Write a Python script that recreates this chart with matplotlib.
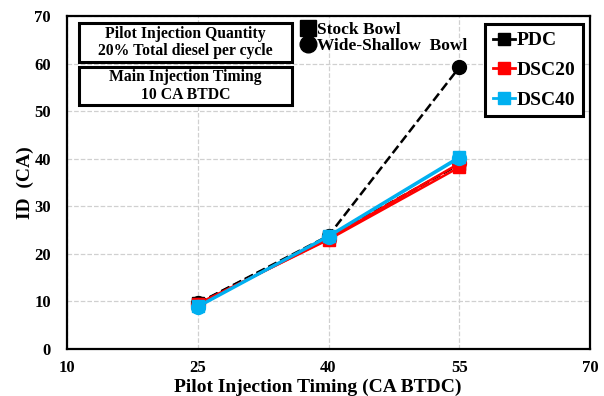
import matplotlib.pyplot as plt
from matplotlib.lines import Line2D
from matplotlib.patches import Rectangle

plt.rcParams['font.family'] = ['Liberation Serif', 'DejaVu Serif']
plt.rcParams['font.weight'] = 'bold'
plt.rcParams['axes.labelweight'] = 'bold'

# pilot injection timing (CA BTDC)
timing = [25, 40, 55]
# ignition delay, stock bowl
id_pdc_stock = [9.6, 23.5, 38.8]
id_dsc20_stock = [9.5, 23.0, 38.2]
id_dsc40_stock = [9.0, 23.8, 40.4]
# ignition delay, wide-shallow bowl
id_pdc_ws = [9.6, 23.8, 59.2]
id_dsc20_ws = [9.3, 23.2, 39.0]
id_dsc40_ws = [8.8, 23.6, 40.1]

fuels = ['PDC', 'DSC20', 'DSC40']
colors = ['black', '#ff0000', '#00b0f0']
styles = ['--', '-', '-']

fig = plt.figure(figsize=(6.04, 3.96), dpi=100)
ax = fig.add_axes([67 / 604, 47 / 396, 523 / 604, 333 / 396])

stock = [id_pdc_stock, id_dsc20_stock, id_dsc40_stock]
ws = [id_pdc_ws, id_dsc20_ws, id_dsc40_ws]
for s, w, c, ls in zip(stock, ws, colors, styles):
    ax.plot(timing, s, color=c, ls=ls, lw=1.8, marker='s', ms=9, zorder=3)
    ax.plot(timing, w, color=c, ls=ls, lw=1.8, marker='o', ms=10, zorder=3)

ax.set_xlim(10, 70)
ax.set_ylim(0, 70)
ax.set_xticks([10, 25, 40, 55, 70])
ax.set_yticks(range(0, 71, 10))
ax.tick_params(axis='both', labelsize=12, length=0)
ax.tick_params(axis='x', pad=8)
ax.tick_params(axis='y', pad=11.5)
ax.grid(True, color='#d0d0d0', ls='--', lw=0.9)
for sp in ax.spines.values():
    sp.set_linewidth(1.6)
    sp.set_color('black')

ax.set_xlabel('Pilot Injection Timing (CA BTDC)', fontsize=14, va='center')
ax.xaxis.set_label_coords(0.48, -0.114)
ax.set_ylabel('ID  (CA)', fontsize=14, va='center')
ax.yaxis.set_label_coords(-0.080, 0.5)

# info boxes
for y0, y1, txt in [(0.862, 0.979, 'Pilot Injection Quantity\n20% Total diesel per cycle'),
                    (0.733, 0.847, 'Main Injection Timing\n10 CA BTDC')]:
    ax.add_patch(Rectangle((0.023, y0), 0.407, y1 - y0, transform=ax.transAxes,
                           fill=True, facecolor='white', edgecolor='black', lw=2.2, zorder=5))
    ax.text(0.2265, (y0 + y1) / 2, txt, transform=ax.transAxes, ha='center', va='center',
            fontsize=11.3, linespacing=1.15, zorder=6)

# bowl marker key
bowl_handles = [Line2D([], [], color='black', ls='none', marker='s', ms=11),
                Line2D([], [], color='black', ls='none', marker='o', ms=12)]
leg1 = ax.legend(bowl_handles, ['Stock Bowl', 'Wide-Shallow  Bowl'], loc='upper left',
                 bbox_to_anchor=(0.4235, 1.02), frameon=False, fontsize=12.5,
                 handlelength=0.8, handletextpad=0.15, labelspacing=0.0, borderpad=0.2)
ax.add_artist(leg1)

# fuel key
fuel_handles = [Line2D([], [], color=c, lw=2, marker='s', ms=8) for c in colors]
leg2 = ax.legend(fuel_handles, fuels, loc='upper right', bbox_to_anchor=(0.9866, 0.976),
                 borderaxespad=0, fontsize=14, handlelength=1.1, handletextpad=0.1,
                 labelspacing=0.62, borderpad=0.4, fancybox=False, framealpha=1,
                 edgecolor='black')
leg2.get_frame().set_linewidth(2.2)

fig.savefig('out.png', dpi=100)
